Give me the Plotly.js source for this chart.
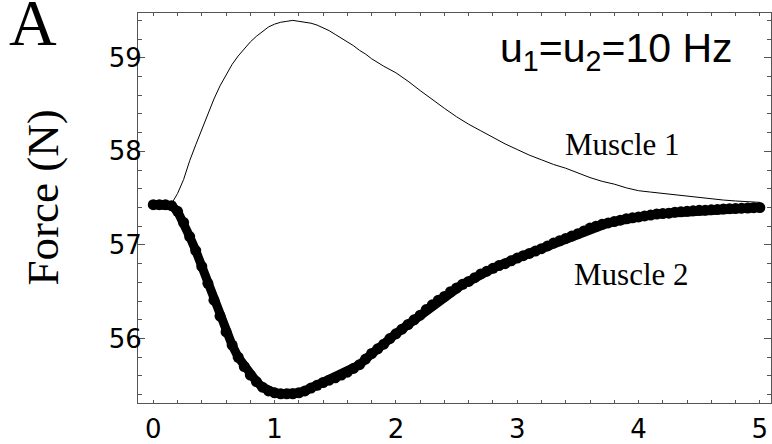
<!DOCTYPE html>
<html>
<head>
<meta charset="utf-8">
<script src="https://cdn.plot.ly/plotly-3.0.1.min.js"></script>
<style>
  html, body { margin: 0; padding: 0; background: #fff; }
  #chart { width: 772px; height: 444px; }
</style>
</head>
<body>
<div id="chart"></div>
<script>
// Time (s)
const time1 = [0, 0.1, 0.15, 0.2, 0.25, 0.3, 0.35, 0.4, 0.45, 0.5, 0.55, 0.6, 0.65, 0.7, 0.75, 0.8, 0.85, 0.9, 0.95,
  1.0, 1.05, 1.1, 1.15, 1.2, 1.25, 1.3, 1.35, 1.4, 1.45, 1.5, 1.55, 1.6, 1.65, 1.7, 1.75, 1.8, 1.85, 1.9,
  2.0, 2.1, 2.2, 2.3, 2.4, 2.5, 2.6, 2.7, 2.8, 2.9, 3.0, 3.1, 3.2, 3.3, 3.4, 3.5, 3.6, 3.7, 3.8, 3.9,
  4.0, 4.1, 4.2, 4.3, 4.4, 4.5, 4.6, 4.7, 4.8, 4.9, 5.0];
// Muscle 1 force (N)
const muscle1 = [57.43, 57.43, 57.44, 57.55, 57.70, 57.90, 58.07, 58.24, 58.40, 58.56, 58.70, 58.82, 58.93, 59.02, 59.10, 59.17, 59.23, 59.28, 59.33,
  59.36, 59.38, 59.39, 59.40, 59.39, 59.38, 59.37, 59.35, 59.32, 59.29, 59.25, 59.21, 59.17, 59.13, 59.08, 59.04, 58.99, 58.95, 58.91,
  58.84, 58.75, 58.65, 58.55, 58.46, 58.37, 58.29, 58.22, 58.15, 58.08, 58.02, 57.96, 57.91, 57.86, 57.82, 57.77, 57.72, 57.68, 57.65, 57.61,
  57.58, 57.565, 57.55, 57.535, 57.52, 57.505, 57.49, 57.48, 57.47, 57.46, 57.455];

const time2 = [0, 0.05, 0.1, 0.15, 0.2, 0.25, 0.3, 0.35, 0.4, 0.45, 0.5, 0.55, 0.6, 0.65, 0.7, 0.75, 0.8, 0.85, 0.9, 0.95,
  1.0, 1.05, 1.1, 1.15, 1.2, 1.25, 1.3, 1.35, 1.4, 1.45, 1.5, 1.55, 1.6, 1.65, 1.7, 1.75, 1.8, 1.85, 1.9, 1.95,
  2.0, 2.05, 2.1, 2.15, 2.2, 2.25, 2.3, 2.35, 2.4, 2.45, 2.5, 2.55, 2.6, 2.65, 2.7, 2.75, 2.8, 2.85, 2.9, 2.95,
  3.0, 3.05, 3.1, 3.15, 3.2, 3.25, 3.3, 3.35, 3.4, 3.45, 3.5, 3.55, 3.6, 3.65, 3.7, 3.75, 3.8, 3.85, 3.9, 3.95,
  4.0, 4.05, 4.1, 4.15, 4.2, 4.25, 4.3, 4.35, 4.4, 4.45, 4.5, 4.55, 4.6, 4.65, 4.7, 4.75, 4.8, 4.85, 4.9, 4.95, 5.0];
// Muscle 2 force (N)
const muscle2 = [57.43, 57.43, 57.43, 57.42, 57.36, 57.24, 57.09, 56.94, 56.77, 56.59, 56.41, 56.24, 56.07, 55.93, 55.80, 55.70, 55.61, 55.54, 55.48, 55.44,
  55.42, 55.41, 55.41, 55.41, 55.42, 55.44, 55.47, 55.50, 55.53, 55.555, 55.58, 55.61, 55.64, 55.68, 55.72, 55.78, 55.84, 55.89, 55.94, 56.00,
  56.05, 56.10, 56.15, 56.20, 56.25, 56.31, 56.36, 56.41, 56.45, 56.50, 56.54, 56.58, 56.61, 56.65, 56.69, 56.72, 56.75, 56.78, 56.80, 56.83,
  56.86, 56.885, 56.91, 56.935, 56.96, 56.99, 57.02, 57.045, 57.07, 57.095, 57.12, 57.15, 57.18, 57.20, 57.22, 57.235, 57.25, 57.265, 57.28, 57.29,
  57.30, 57.31, 57.32, 57.33, 57.335, 57.34, 57.35, 57.355, 57.36, 57.365, 57.37, 57.372, 57.375, 57.38, 57.385, 57.388, 57.39, 57.393, 57.395, 57.398, 57.40];

const xTickVals = [0, 1, 2, 3, 4, 5];
const yTickVals = [56, 57, 58, 59];
const yLabel = "Force (N)";
const panelLabel = "A";
const condition = "u<sub>1</sub>=u<sub>2</sub>=10 Hz";
const name1 = "Muscle 1";
const name2 = "Muscle 2";

const traces = [
  {
    x: time1, y: muscle1, type: "scatter", mode: "lines", name: name1,
    line: { color: "#000", width: 1 }
  },
  {
    x: time2, y: muscle2, type: "scatter", mode: "lines+markers", name: name2,
    line: { color: "#000", width: 9 },
    marker: { color: "#000", size: 11 }
  }
];

const frame = "#555";
const layout = {
  width: 772, height: 444,
  margin: { l: 138, r: 1, t: 13, b: 41 },
  paper_bgcolor: "#fff", plot_bgcolor: "#fff",
  showlegend: false,
  xaxis: {
    range: [-0.126, 5.092],
    tickvals: xTickVals,
    ticks: "inside", ticklen: 3, tickcolor: frame, tickwidth: 1,
    minor: { dtick: 0.2, ticks: "inside", ticklen: 3, tickcolor: frame, showgrid: false },
    showline: true, linecolor: frame, linewidth: 1, mirror: "ticks",
    showgrid: false, zeroline: false,
    tickfont: { family: "DejaVu Sans", size: 26, color: "#000" },
    ticklabelstandoff: 3
  },
  yaxis: {
    range: [55.311, 59.479],
    tickvals: yTickVals,
    ticks: "inside", ticklen: 7, tickcolor: frame, tickwidth: 1,
    minor: { dtick: 0.2, ticks: "inside", ticklen: 4, tickcolor: frame, showgrid: false },
    showline: true, linecolor: frame, linewidth: 1, mirror: "ticks",
    showgrid: false, zeroline: false,
    tickfont: { family: "DejaVu Sans", size: 26, color: "#000" },
    ticklabelstandoff: -10
  },
  annotations: [
    { text: panelLabel, xref: "paper", yref: "paper", x: -0.166, y: 0.975, xanchor: "center", yanchor: "middle",
      showarrow: false, font: { family: "Liberation Serif", size: 66, color: "#000" } },
    { text: yLabel, xref: "paper", yref: "paper", x: -0.150, y: 0.527, xanchor: "center", yanchor: "middle",
      textangle: -90, showarrow: false, font: { family: "Liberation Serif", size: 45, color: "#000" } },
    { text: condition, xref: "x", yref: "y", x: 2.84, y: 59.07, xanchor: "left", yanchor: "middle",
      showarrow: false, font: { family: "Liberation Sans", size: 41, color: "#000" } },
    { text: name1, xref: "x", yref: "y", x: 3.38, y: 58.07, xanchor: "left", yanchor: "middle",
      showarrow: false, font: { family: "Liberation Serif", size: 31, color: "#000" } },
    { text: name2, xref: "x", yref: "y", x: 3.45, y: 56.68, xanchor: "left", yanchor: "middle",
      showarrow: false, font: { family: "Liberation Serif", size: 31, color: "#000" } }
  ]
};

Plotly.newPlot("chart", traces, layout, { displayModeBar: false, staticPlot: true });
</script>
</body>
</html>
